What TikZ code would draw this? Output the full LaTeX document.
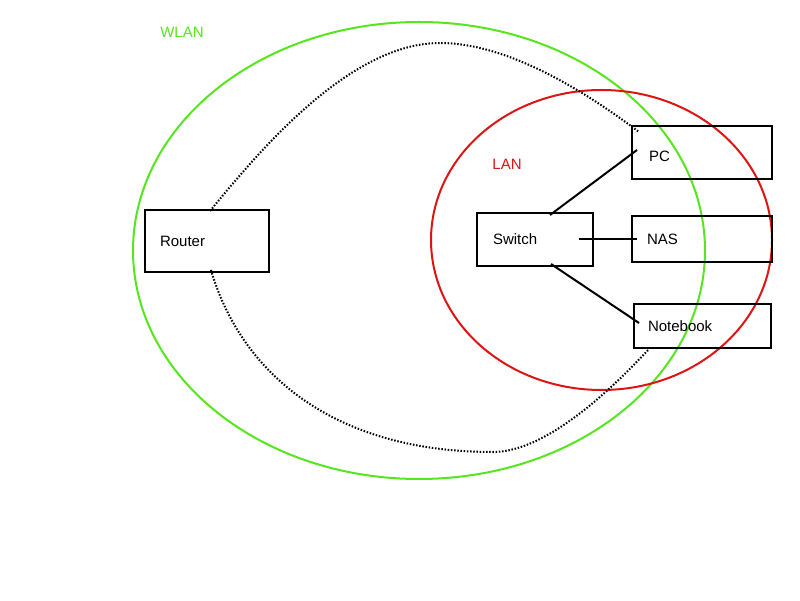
\documentclass[tikz,border=0pt]{standalone}
\usepackage{fontspec}
\setmainfont{Liberation Sans}
\usepackage{tikz}
\usetikzlibrary{positioning}
\definecolor{wlangreen}{RGB}{85,230,30}
\definecolor{lanred}{RGB}{222,20,20}

\begin{document}
\begin{tikzpicture}[x=1pt,y=1pt,font=\fontsize{15}{18}\selectfont,device/.style n args={3}{draw,line width=2pt,rectangle,minimum width=#1pt,minimum height=#2pt,text width=#3pt,inner xsep=15pt,align=left},zone/.style={line width=2pt,#1},cable/.style={line width=2pt},wifi/.style={line width=2pt,dash pattern=on 1.5pt off 1.7pt}]
\useasboundingbox (0,0) rectangle (800,600);
% zones
\draw[zone=wlangreen] (419,349.5) ellipse [x radius=286, y radius=228.5];
\draw[zone=lanred] (601.5,360) ellipse [x radius=170.5, y radius=150];
\node[text=wlangreen] (wlan-label) at (182,568) {WLAN};
\node[text=lanred] (lan-label) at (507,436) {LAN};
% devices
\node[device={124}{62}{94}] (router) at (207,359) {Router};
\node[device={116}{53}{84}, inner xsep=16pt] (switch) at (535,360.5) {Switch};
\node[device={140}{53}{106}, inner xsep=17pt, text height=19pt] (pc) at (702,447.5) {PC};
\node[device={140}{46}{110}] (nas) at (702,360.5) {NAS};
\node[device={137}{44}{109}, inner xsep=14pt] (notebook) at (702.5,274) {Notebook};
% cable ends
\coordinate (sw-pc) at ([xshift=15,yshift=-3]switch.north);
\coordinate (sw-nas) at ([xshift=-15]switch.east);
\coordinate (sw-notebook) at ([xshift=16,yshift=3]switch.south);
\coordinate (pc-in) at ([xshift=6,yshift=2.5]pc.west);
\coordinate (nas-in) at ([xshift=6]nas.west);
\coordinate (notebook-in) at ([xshift=6,yshift=3]notebook.west);
\foreach \dev in {pc,nas,notebook} {
   \draw[cable] (sw-\dev) -- (\dev-in);
}
% wireless paths
\coordinate (router-up) at ([xshift=3,yshift=-2]router.north);
\coordinate (router-down) at ([xshift=4,yshift=3]router.south);
\coordinate (pc-air) at ([xshift=8,yshift=-7]pc.north west);
\coordinate (notebook-air) at ([xshift=16]notebook.south west);
\draw[wifi] (router-up) .. controls (260,450) and (350,557) .. (440,557)
   .. controls (510,557) and (590,505) .. (pc-air);
\draw[wifi] (router-down) .. controls (240,230) and (330,148) .. (493,148)
   .. controls (550,148) and (620,220) .. (notebook-air);
\end{tikzpicture}
\end{document}
